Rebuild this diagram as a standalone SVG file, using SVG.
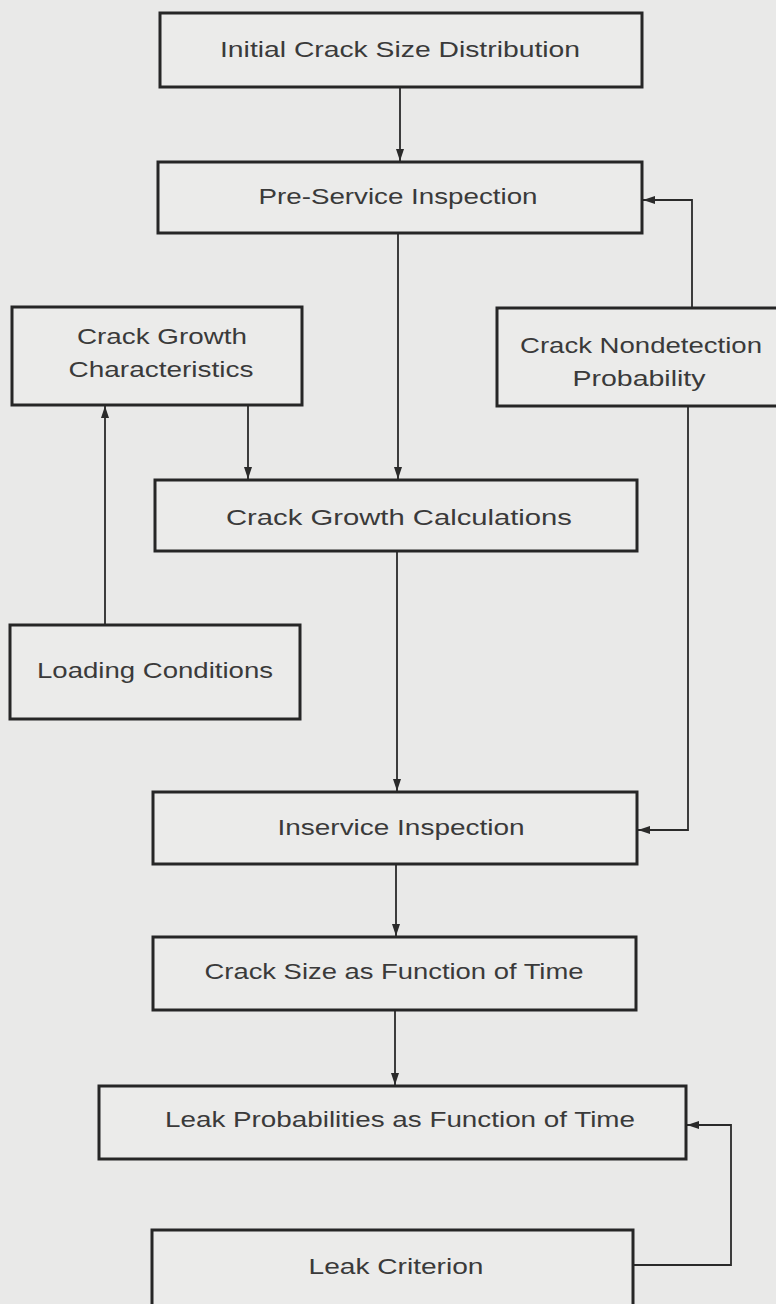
<svg xmlns="http://www.w3.org/2000/svg" width="776" height="1304" viewBox="0 0 776 1304">
<style>
.bx{fill:#ebebea;stroke:#262626;stroke-width:3}
.t{font-family:"Liberation Sans",Arial,sans-serif;font-size:22px;fill:#3a3a3a;text-anchor:middle}
.c{fill:none;stroke:#2a2a2a;stroke-width:1.8}
</style>
<defs>
<marker id="ah" viewBox="0 0 12 8" refX="12" refY="4" markerWidth="12" markerHeight="8" markerUnits="userSpaceOnUse" orient="auto">
<path d="M0,0 L12,4 L0,8 Z" fill="#2a2a2a"/>
</marker>
</defs>
<rect width="776" height="1304" fill="#e9e9e8"/>
<g id="connectors">
<path class="c" d="M400,87 V161" marker-end="url(#ah)"/>
<path class="c" d="M692,308 V200 H643" marker-end="url(#ah)"/>
<path class="c" d="M398,233 V479" marker-end="url(#ah)"/>
<path class="c" d="M248,405 V479" marker-end="url(#ah)"/>
<path class="c" d="M105,625 V406" marker-end="url(#ah)"/>
<path class="c" d="M397,551 V791" marker-end="url(#ah)"/>
<path class="c" d="M688,406 V830 H638" marker-end="url(#ah)"/>
<path class="c" d="M396,864 V936" marker-end="url(#ah)"/>
<path class="c" d="M395,1010 V1085" marker-end="url(#ah)"/>
<path class="c" d="M633,1265 H731 V1125 H687" marker-end="url(#ah)"/>
</g>
<g id="n1"><rect class="bx" x="160" y="13" width="482" height="74"/><text class="t" x="400" y="57" textLength="360" lengthAdjust="spacingAndGlyphs">Initial Crack Size Distribution</text></g>
<g id="n2"><rect class="bx" x="158" y="162" width="484" height="71"/><text class="t" x="398" y="204" textLength="279" lengthAdjust="spacingAndGlyphs">Pre-Service Inspection</text></g>
<g id="n3"><rect class="bx" x="12" y="307" width="290" height="98"/><text class="t" x="162" y="344" textLength="170" lengthAdjust="spacingAndGlyphs">Crack Growth</text><text class="t" x="161" y="377" textLength="185" lengthAdjust="spacingAndGlyphs">Characteristics</text></g>
<g id="n4"><rect class="bx" x="497" y="308" width="281" height="98"/><text class="t" x="641" y="353" textLength="242" lengthAdjust="spacingAndGlyphs">Crack Nondetection</text><text class="t" x="639" y="386" textLength="133" lengthAdjust="spacingAndGlyphs">Probability</text></g>
<g id="n5"><rect class="bx" x="155" y="480" width="482" height="71"/><text class="t" x="399" y="525" textLength="346" lengthAdjust="spacingAndGlyphs">Crack Growth Calculations</text></g>
<g id="n6"><rect class="bx" x="10" y="625" width="290" height="94"/><text class="t" x="155" y="678" textLength="236" lengthAdjust="spacingAndGlyphs">Loading Conditions</text></g>
<g id="n7"><rect class="bx" x="153" y="792" width="484" height="72"/><text class="t" x="401" y="835" textLength="247" lengthAdjust="spacingAndGlyphs">Inservice Inspection</text></g>
<g id="n8"><rect class="bx" x="153" y="937" width="483" height="73"/><text class="t" x="394" y="979" textLength="379" lengthAdjust="spacingAndGlyphs">Crack Size as Function of Time</text></g>
<g id="n9"><rect class="bx" x="99" y="1086" width="587" height="73"/><text class="t" x="400" y="1127" textLength="470" lengthAdjust="spacingAndGlyphs">Leak Probabilities as Function of Time</text></g>
<g id="n10"><rect class="bx" x="152" y="1230" width="481" height="78"/><text class="t" x="396" y="1274" textLength="175" lengthAdjust="spacingAndGlyphs">Leak Criterion</text></g>
</svg>
